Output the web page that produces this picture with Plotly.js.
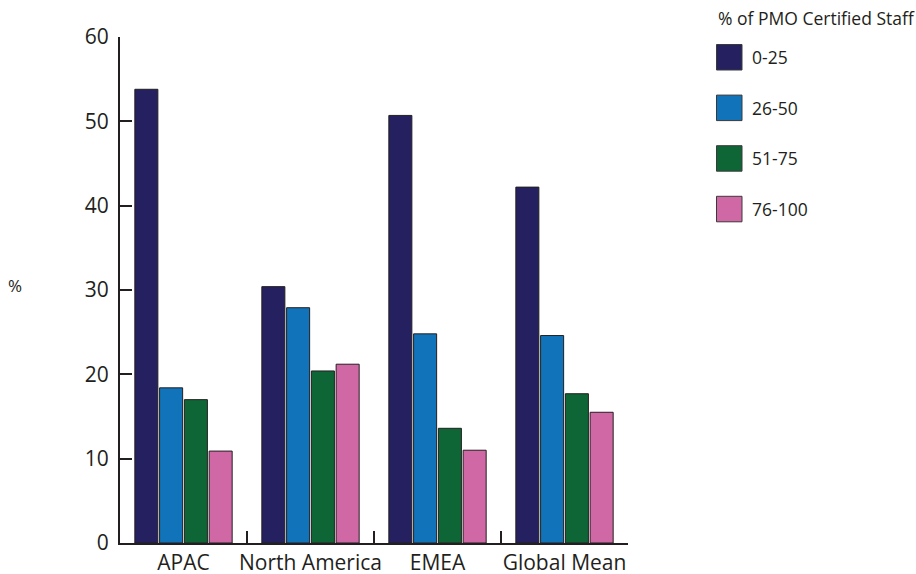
<!DOCTYPE html>
<html>
<head>
<meta charset="utf-8">
<script src="https://cdn.plot.ly/plotly-3.0.1.min.js"></script>
<style>
  html, body { margin: 0; padding: 0; background: #ffffff; }
  #chart { width: 916px; height: 574px; }
</style>
</head>
<body>
<div id="chart"></div>
<script>
// Regions on the category axis
const regions = ['APAC', 'North America', 'EMEA', 'Global Mean'];

// Share of PMO-certified staff bands (series names)
const bands = ['0-25', '26-50', '51-75', '76-100'];

// Percent of respondents in each band, per region
const band0to25   = [53.8, 30.4, 50.7, 42.2];
const band26to50  = [18.4, 27.9, 24.8, 24.6];
const band51to75  = [17.0, 20.4, 13.6, 17.7];
const band76to100 = [10.9, 21.2, 11.0, 15.5];

const yTicks = [0, 10, 20, 30, 40, 50, 60];

const seriesValues = [band0to25, band26to50, band51to75, band76to100];
const colors = ['#252060', '#1174bb', '#0e6637', '#d068a6'];
const ink = '#231f20';
const fontFamily = '"Open Sans", "Noto Sans", sans-serif';

const W = 916, H = 574;
const M = { l: 120, r: 288, t: 37, b: 31 };
const plotW = W - M.l - M.r;
const plotH = H - M.t - M.b;
// pixel -> paper coordinate helpers for the hand-placed legend
const px = x => (x - M.l) / plotW;
const py = y => (H - M.b - y) / plotH;

const traces = bands.map((name, i) => ({
  type: 'bar',
  name: name,
  x: regions,
  y: seriesValues[i],
  marker: { color: colors[i], line: { color: ink, width: 1 } },
  showlegend: false,
  hoverinfo: 'x+y+name'
}));

const shapes = [];
const annotations = [];

// Legend title
annotations.push({
  xref: 'paper', yref: 'paper', x: px(716), y: py(18),
  xanchor: 'left', yanchor: 'middle', showarrow: false,
  text: '% of PMO Certified Staff',
  font: { family: fontFamily, size: 17.5, color: ink }
});

// Legend swatches and labels
const legendTop = 44.5, legendStep = 50.6, swatch = 25.5;
bands.forEach((name, i) => {
  const y0 = legendTop + i * legendStep;
  shapes.push({
    type: 'rect', xref: 'paper', yref: 'paper',
    x0: px(716.5), x1: px(716.5 + swatch), y0: py(y0 + swatch), y1: py(y0),
    fillcolor: colors[i], line: { color: '#3a3a3a', width: 1 }
  });
  annotations.push({
    xref: 'paper', yref: 'paper', x: px(750), y: py(y0 + swatch / 2),
    xanchor: 'left', yanchor: 'middle', showarrow: false,
    text: name,
    font: { family: fontFamily, size: 17.5, color: ink }
  });
});

// Horizontal "%" axis label
annotations.push({
  xref: 'paper', yref: 'paper', x: px(15), y: py(285),
  xanchor: 'center', yanchor: 'middle', showarrow: false,
  text: '%',
  font: { family: fontFamily, size: 17, color: ink }
});

const layout = {
  width: W, height: H,
  margin: M,
  paper_bgcolor: '#ffffff',
  plot_bgcolor: '#ffffff',
  font: { family: fontFamily, color: ink },
  barmode: 'group',
  bargap: 0.22,
  bargroupgap: 0.07,
  showlegend: false,
  xaxis: {
    type: 'category',
    range: [-0.5, 3.5],
    automargin: false,
    tickangle: 0,
    showline: true, linecolor: ink, linewidth: 2,
    ticks: 'inside', tickson: 'boundaries', ticklen: 12, tickwidth: 2, tickcolor: ink,
    showgrid: false, zeroline: false,
    tickfont: { family: fontFamily, size: 21, color: ink },
    ticklabelstandoff: 0
  },
  yaxis: {
    range: [0, 60],
    automargin: false,
    tickvals: yTicks,
    ticktext: yTicks.map(String),
    showline: true, linecolor: ink, linewidth: 2,
    ticks: 'inside', ticklen: 12, tickwidth: 2, tickcolor: ink,
    showgrid: false, zeroline: false,
    tickfont: { family: fontFamily, size: 21, color: ink },
    ticklabelstandoff: 5
  },
  shapes: shapes,
  annotations: annotations
};

Plotly.newPlot('chart', traces, layout, { displayModeBar: false, staticPlot: true });
</script>
</body>
</html>
